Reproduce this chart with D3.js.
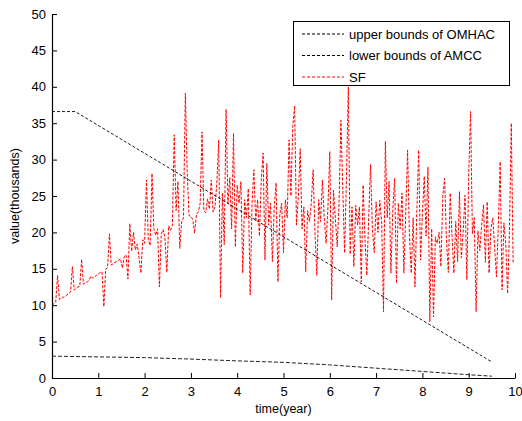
<!DOCTYPE html>
<html>
<head>
<meta charset="utf-8">
<script src="https://cdn.jsdelivr.net/npm/d3@7"></script>
<style>
  body { margin: 0; background: #fff; }
  text { font-family: "Liberation Sans", Arial, sans-serif; fill: #000; }
</style>
</head>
<body>
<div id="chart"></div>
<script>
// 上界 (OMHAC)
var upperX = [0, 0.5, 9.5];
var upperY = [36.6, 36.6, 2.2];

// 下界 (AMCC)
var lowerX = [0, 1, 2, 3, 4, 5, 6, 7, 8, 9, 9.5];
var lowerY = [3.0, 2.9, 2.8, 2.6, 2.35, 2.15, 1.8, 1.35, 0.9, 0.45, 0.25];

// SF 序列, 每 0.04 年一點
var sfStep = 0.04;
var sfValues = [
  10.0, 10.2, 10.4, 14.1, 10.8, 10.9, 11.1, 11.2, 11.4, 11.6, 11.8, 15.3, 12.1, 12.3, 12.5, 12.6, 16.3, 12.9, 13.1, 13.2, 13.4, 14.0, 13.7, 13.9, 14.1,
  14.3, 14.5, 14.6, 9.8, 15.0, 15.1, 19.8, 15.5, 15.7, 15.9, 16.0, 16.2, 16.4, 15.1, 16.7, 16.9, 13.6, 21.2, 17.4, 20.0, 17.6, 18.4, 16.5, 14.4, 19.0,
  18.5, 27.2, 19.0, 18.2, 28.1, 20.5, 19.6, 20.5, 12.5, 19.8, 20.4, 19.2, 14.5, 20.9, 20.3, 21.0, 33.4, 23.0, 27.0, 17.8, 21.5, 22.0, 39.1, 28.3, 22.3,
  22.2, 21.8, 19.9, 22.5, 22.8, 24.0, 33.8, 23.0, 22.7, 24.6, 23.2, 27.2, 22.8, 23.5, 26.7, 32.7, 11.0, 25.4, 18.3, 36.9, 24.0, 27.5, 20.5, 33.6, 18.0,
  26.5, 24.0, 27.0, 14.4, 24.5, 22.0, 26.0, 11.4, 23.8, 28.6, 21.5, 24.5, 19.5, 27.2, 30.9, 16.2, 29.5, 21.0, 24.0, 16.0, 23.5, 26.8, 13.2, 22.5, 24.0,
  17.2, 24.5, 22.0, 32.7, 25.0, 34.5, 37.4, 21.0, 24.8, 31.5, 20.5, 23.5, 14.6, 23.0, 21.5, 24.0, 28.6, 20.0, 14.1, 24.5, 21.5, 27.2, 22.0, 18.5, 23.5,
  31.1, 10.7, 25.8, 22.0, 18.0, 24.0, 35.4, 26.0, 17.2, 27.5, 40.0, 17.0, 23.5, 15.3, 23.7, 21.0, 23.5, 13.2, 26.5, 19.0, 14.1, 22.0, 29.3, 20.5, 17.2,
  24.2, 20.0, 24.4, 21.5, 9.1, 32.5, 22.0, 27.0, 14.4, 23.0, 27.4, 13.0, 24.0, 20.5, 25.4, 14.4, 22.5, 31.3, 19.5, 14.4, 22.0, 12.5, 23.0, 31.3, 16.2,
  22.5, 27.7, 19.5, 29.0, 7.7, 20.5, 8.4, 19.4, 18.5, 20.0, 15.3, 24.9, 27.4, 19.0, 14.5, 25.4, 19.5, 14.4, 21.5, 16.0, 25.6, 16.5, 20.0, 25.1, 13.5,
  27.7, 36.6, 19.8, 22.0, 9.1, 20.2, 17.5, 21.0, 23.8, 15.9, 24.2, 14.4, 20.5, 22.0, 18.0, 13.9, 21.0, 29.7, 12.1, 21.3, 18.5, 11.6, 20.0, 35.0, 15.7
];

var xTicks = [0, 1, 2, 3, 4, 5, 6, 7, 8, 9, 10];
var yTicks = [0, 5, 10, 15, 20, 25, 30, 35, 40, 45, 50];
var legendLabels = ["upper bounds of OMHAC", "lower bounds of AMCC", "SF"];

var width = 522, height = 421;
var margin = { left: 52, right: 7, top: 14, bottom: 43 };

var svg = d3.select("#chart").append("svg")
  .attr("width", width)
  .attr("height", height);

var x = d3.scaleLinear().domain([0, 10]).range([margin.left, width - margin.right]);
var y = d3.scaleLinear().domain([0, 50]).range([height - margin.bottom, margin.top]);

var line = d3.line().x(d => x(d[0])).y(d => y(d[1]));

// SF
var sfData = sfValues.map((v, i) => [i * sfStep, v]);
svg.append("path")
  .datum(sfData)
  .attr("fill", "none")
  .attr("stroke", "#ff0000")
  .attr("stroke-width", 1)
  .attr("stroke-dasharray", "3,1.5")
  .attr("d", line);

// 上下界
svg.append("path")
  .datum(upperX.map((v, i) => [v, upperY[i]]))
  .attr("fill", "none")
  .attr("stroke", "#000")
  .attr("stroke-width", 0.9)
  .attr("stroke-dasharray", "3,2")
  .attr("d", line);

svg.append("path")
  .datum(lowerX.map((v, i) => [v, lowerY[i]]))
  .attr("fill", "none")
  .attr("stroke", "#222")
  .attr("stroke-width", 1)
  .attr("stroke-dasharray", "4,2")
  .attr("d", line);

// 座標軸
var xAxis = svg.append("g")
  .attr("transform", "translate(0," + y(0) + ")")
  .call(d3.axisBottom(x).tickValues(xTicks).tickSizeInner(-5).tickSizeOuter(0).tickPadding(9));
var yAxis = svg.append("g")
  .attr("transform", "translate(" + x(0) + ",0)")
  .call(d3.axisLeft(y).tickValues(yTicks).tickSizeInner(-5).tickSizeOuter(0).tickPadding(6));

[xAxis, yAxis].forEach(function (g) {
  g.select(".domain").attr("stroke", "#000").attr("stroke-width", 1.2);
  g.selectAll(".tick line").attr("stroke", "#000");
  g.selectAll(".tick text")
    .style("font-family", "Liberation Sans, Arial, sans-serif")
    .style("font-size", "13px")
    .attr("fill", "#000");
});

svg.append("text")
  .attr("x", x(5))
  .attr("y", 413)
  .attr("text-anchor", "middle")
  .style("font-size", "12.5px")
  .text("time(year)");

svg.append("text")
  .attr("transform", "translate(19," + y(25) + ") rotate(-90)")
  .attr("text-anchor", "middle")
  .style("font-size", "12.5px")
  .text("value(thousands)");

// 圖例
var legend = svg.append("g");
legend.append("rect")
  .attr("x", 293.5).attr("y", 21.5)
  .attr("width", 216).attr("height", 64)
  .attr("fill", "#fff")
  .attr("stroke", "#000")
  .attr("stroke-width", 1);

var legendColors = ["#000", "#000", "#ff0000"];
legendLabels.forEach(function (lab, i) {
  var ly = 34 + i * 21.5;
  legend.append("line")
    .attr("x1", 302).attr("x2", 344)
    .attr("y1", ly).attr("y2", ly)
    .attr("stroke", legendColors[i])
    .attr("stroke-width", 1)
    .attr("stroke-dasharray", "3,2");
  legend.append("text")
    .attr("x", 349).attr("y", ly + 4.5)
    .style("font-size", "13px")
    .text(lab);
});
</script>
</body>
</html>
